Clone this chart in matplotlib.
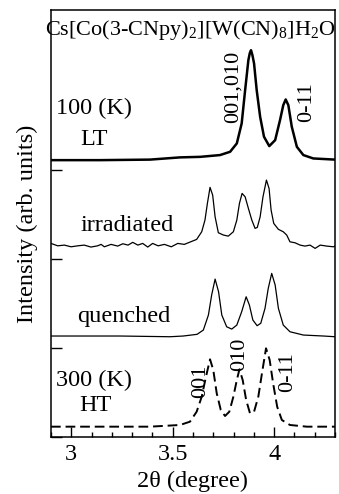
import matplotlib
matplotlib.use("Agg")
import matplotlib.pyplot as plt
from matplotlib.ticker import MultipleLocator

plt.rcParams['font.family'] = ['Liberation Serif', 'DejaVu Serif']
plt.rcParams['mathtext.fontset'] = 'custom'
plt.rcParams['mathtext.rm'] = 'Liberation Serif'
plt.rcParams['mathtext.it'] = 'Liberation Serif:italic'

# ---- data (2theta in degrees, intensity in offset units) ----
lt_x = [2.900, 3.142, 3.388, 3.536, 3.635, 3.733, 3.783, 3.816, 3.840, 3.857, 3.873,
        3.880, 3.886, 3.893, 3.901, 3.914, 3.931, 3.950, 3.976, 4.005, 4.029, 4.045,
        4.057, 4.070, 4.087, 4.112, 4.144, 4.193, 4.300]
lt_y = [3.112, 3.112, 3.118, 3.143, 3.149, 3.169, 3.206, 3.300, 3.525, 3.899, 4.236,
        4.315, 4.348, 4.292, 4.199, 3.899, 3.599, 3.375, 3.270, 3.337, 3.562, 3.730,
        3.794, 3.730, 3.487, 3.262, 3.169, 3.131, 3.118]

irr_x = [2.900, 2.933, 2.966, 2.999, 3.032, 3.064, 3.097, 3.130, 3.147, 3.163, 3.196,
         3.229, 3.254, 3.280, 3.303, 3.328, 3.352, 3.377, 3.401, 3.428, 3.459, 3.493,
         3.525, 3.557, 3.582, 3.618, 3.643, 3.659, 3.671, 3.684, 3.697, 3.709, 3.725,
         3.750, 3.774, 3.799, 3.816, 3.829, 3.842, 3.857, 3.873, 3.890, 3.906, 3.917,
         3.931, 3.945, 3.962, 3.975, 3.985, 3.998, 4.021, 4.045, 4.062, 4.078, 4.103,
         4.128, 4.152, 4.177, 4.202, 4.227, 4.259, 4.292, 4.300]
irr_y = [2.176, 2.149, 2.157, 2.138, 2.149, 2.157, 2.135, 2.149, 2.165, 2.138, 2.165,
         2.146, 2.172, 2.157, 2.188, 2.157, 2.176, 2.135, 2.176, 2.149, 2.165, 2.138,
         2.176, 2.165, 2.188, 2.221, 2.307, 2.438, 2.626, 2.806, 2.719, 2.475, 2.296,
         2.270, 2.258, 2.307, 2.438, 2.626, 2.738, 2.700, 2.570, 2.438, 2.345, 2.356,
         2.475, 2.700, 2.888, 2.794, 2.551, 2.401, 2.334, 2.307, 2.270, 2.194, 2.183,
         2.157, 2.146, 2.157, 2.120, 2.157, 2.146, 2.138, 2.146]

q_x = [2.900, 3.240, 3.487, 3.552, 3.620, 3.651, 3.676, 3.692, 3.709, 3.726, 3.742,
       3.766, 3.791, 3.816, 3.840, 3.862, 3.878, 3.895, 3.916, 3.934, 3.955, 3.971,
       3.988, 4.005, 4.021, 4.045, 4.078, 4.144, 4.243, 4.300]
q_y = [1.135, 1.135, 1.127, 1.135, 1.154, 1.202, 1.371, 1.596, 1.775, 1.633, 1.371,
       1.239, 1.213, 1.258, 1.408, 1.576, 1.483, 1.315, 1.251, 1.278, 1.446, 1.671,
       1.839, 1.708, 1.446, 1.258, 1.183, 1.146, 1.135, 1.127]

ht_x = [2.900, 3.388, 3.536, 3.585, 3.618, 3.643, 3.664, 3.684, 3.700, 3.717, 3.737,
        3.758, 3.779, 3.799, 3.816, 3.829, 3.845, 3.862, 3.881, 3.901, 3.922, 3.940,
        3.960, 3.978, 3.995, 4.015, 4.038, 4.078, 4.161, 4.300]
ht_y = [0.116, 0.116, 0.135, 0.172, 0.284, 0.453, 0.678, 0.873, 0.753, 0.491, 0.303,
        0.236, 0.284, 0.453, 0.640, 0.761, 0.640, 0.416, 0.266, 0.284, 0.453, 0.716,
        0.997, 0.865, 0.603, 0.340, 0.191, 0.135, 0.116, 0.116]

title = r'Cs[Co(3-CNpy)$_2$][W(CN)$_8$]H$_2$O'
x_ticks = [3, 3.5, 4]
x_ticklabels = ['3', '3.5', '4']

fig = plt.figure(figsize=(3.39, 4.94), dpi=100)
ax = fig.add_axes([0.1504, 0.1154, 0.8378, 0.8644])

ax.plot(lt_x, lt_y, color='black', lw=1.8)
ax.plot(irr_x, irr_y, color='black', lw=0.9)
ax.plot(q_x, q_y, color='black', lw=0.9)
ax.plot(ht_x, ht_y, color='black', lw=1.4, linestyle=(0, (5, 2.5)))

ax.set_xlim(2.9, 4.3)
ax.set_ylim(0, 4.8)
ax.set_xticks(x_ticks)
ax.set_xticklabels(x_ticklabels)
ax.xaxis.set_minor_locator(MultipleLocator(0.1))
ax.set_yticks([0, 1, 2, 3])
ax.set_yticklabels([])
ax.tick_params(axis='x', which='major', direction='in', length=7, width=1,
               labelsize=17.5, pad=5)
ax.tick_params(axis='x', which='minor', direction='in', length=3.5, width=1)
ax.tick_params(axis='y', which='major', direction='in', length=8, width=1)
for s in ax.spines.values():
    s.set_linewidth(1.1)

ax.set_xlabel('2θ (degree)', fontsize=17.5, labelpad=4)
ax.set_ylabel('Intensity (arb. units)', fontsize=17.5, labelpad=6)

fs = 17.5
ax.text(3.588, 4.57, title, fontsize=16, ha='center', va='center')
ax.text(3.112, 3.69, '100 (K)', fontsize=fs, ha='center', va='center')
ax.text(3.112, 3.34, 'LT', fontsize=fs, ha='center', va='center')
ax.text(3.275, 2.38, 'irradiated', fontsize=fs, ha='center', va='center')
ax.text(3.26, 1.36, 'quenched', fontsize=fs, ha='center', va='center')
ax.text(3.112, 0.64, '300 (K)', fontsize=fs, ha='center', va='center')
ax.text(3.117, 0.35, 'HT', fontsize=fs, ha='center', va='center')

ax.text(3.797, 3.94, '001,010', fontsize=16, rotation=90, ha='center', va='center')
ax.text(4.161, 3.76, '0-11', fontsize=16, rotation=90, ha='center', va='center')
ax.text(3.638, 0.63, '001', fontsize=16, rotation=90, ha='center', va='center')
ax.text(3.830, 0.93, '010', fontsize=16, rotation=90, ha='center', va='center')
ax.text(4.066, 0.73, '0-11', fontsize=16, rotation=90, ha='center', va='center')

fig.savefig('out.png', dpi=100)
